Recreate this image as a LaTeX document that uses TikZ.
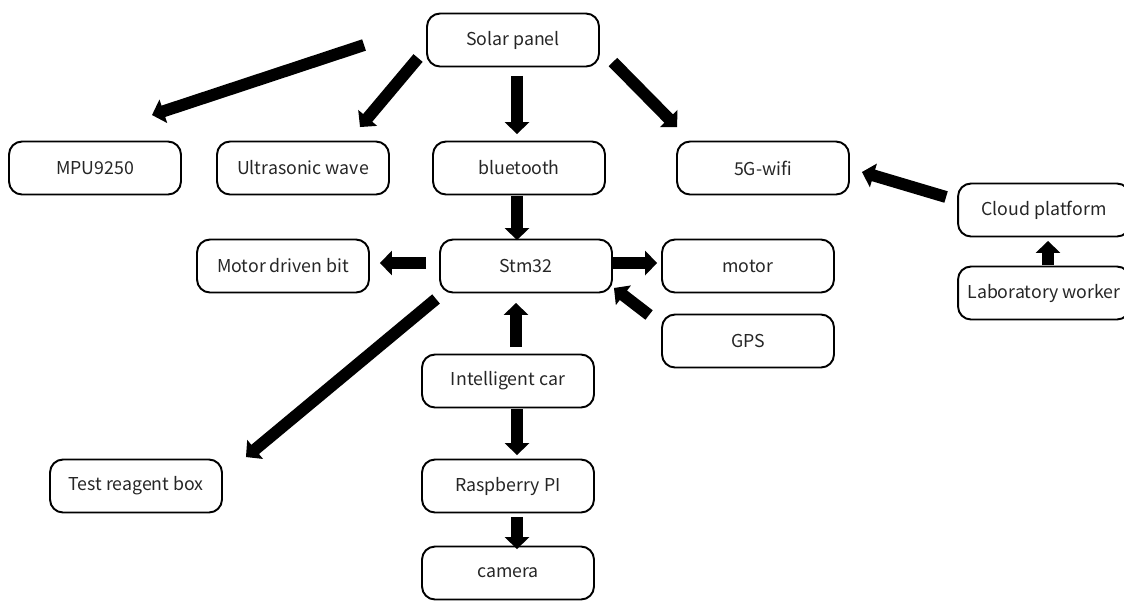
\documentclass[tikz,border=0pt]{standalone}
\usepackage{fontspec}
\setmainfont{Noto Sans CJK SC}
\usetikzlibrary{arrows.meta,calc}

\begin{document}
\begin{tikzpicture}[x=0.02cm,y=-0.02cm,font=\fontsize{10.1}{12}\selectfont]
      \tikzstyle{box}=[draw,rounded corners=0.26cm,line width=1.1pt,minimum width=3.44cm,minimum height=1.06cm,text=black!85]
      \tikzstyle{fat arrow}=[line width=6.8pt,-{Triangle[width=13.7pt,length=6.8pt]}]
      \useasboundingbox (0,0) rectangle (1124,600);

      \node(solar)[box] at (513,40) {Solar panel};
      \node(mpu)[box] at (95,168) {MPU9250};
      \node(ultra)[box] at (303,168) {Ultrasonic wave};
      \node(blue)[box] at (519,168) {bluetooth};
      \node(wifi)[box] at (763,168) {5G-wifi};
      \node(cloud)[box] at (1044,210) {Cloud platform};
      \node(lab)[box] at (1044,293) {Laboratory worker};
      \node(mdb)[box] at (283,266) {Motor driven bit};
      \node(stm)[box] at (526,266) {Stm32};
      \node(motor)[box] at (748,266) {motor};
      \node(gps)[box] at (748,341) {GPS};
      \node(car)[box] at (508,381) {Intelligent car};
      \node(test)[box] at (136,486) {Test reagent box};
      \node(rasp)[box] at (508,486) {Raspberry PI};
      \node(cam)[box] at (508,573) {camera};

      \draw[fat arrow] ($(solar.west)+(-62,5)$) -- ($(mpu.north)+(57,-25.5)$);
      \draw[fat arrow] ($(solar.west)+(-8,18)$) -- ($(ultra.north)+(57,-13.5)$);
      \draw[fat arrow] ($(solar.south)+(4,8.5)$) -- ($(blue.north)+(-2,-6.5)$);
      \draw[fat arrow] ($(solar.east)+(13,22)$) -- ($(wifi.north west)+(1,-13.5)$);
      \draw[fat arrow] ($(blue.south)+(-2,1)$) -- ($(stm.north)+(-9,1.5)$);
      \draw[fat arrow] ($(stm.west)+(-13,-3)$) -- ($(mdb.east)+(10,-3)$);
      \draw[fat arrow] ($(stm.east)+(0,-3)$) -- ($(motor.west)+(-4,-3)$);
      \draw[fat arrow] ($(gps.west)+(-12,-26)$) -- ($(stm.south east)+(1,-5.5)$);
      \draw[fat arrow] ($(stm.south west)+(-3,5.5)$) -- ($(test.north east)+(23,-1.5)$);
      \draw[fat arrow] ($(car.north)+(8,-6.5)$) -- ($(stm.south)+(-10,9.5)$);
      \draw[fat arrow] ($(car.south)+(9,0.5)$) -- ($(rasp.north)+(9,-3.5)$);
      \draw[fat arrow] ($(rasp.south)+(9,3.5)$) -- ($(cam.north)+(9,3.5)$);
      \draw[fat arrow] ($(cloud.west)+(-11,-13)$) -- ($(wifi.east)+(12,4)$);
      \draw[fat arrow] ($(lab.north)+(4,-0.5)$) -- ($(cloud.south)+(4,3.5)$);
\end{tikzpicture}
\end{document}
